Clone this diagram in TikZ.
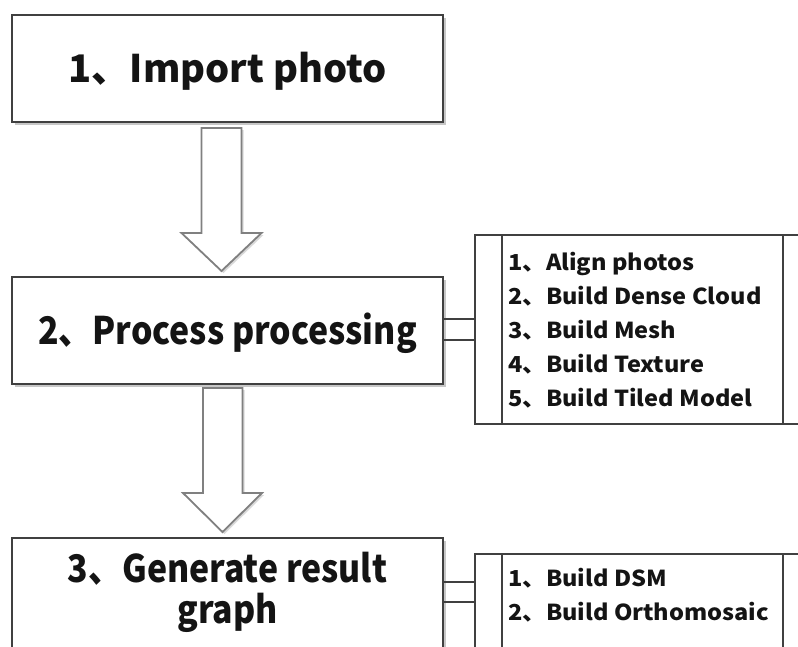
\documentclass[tikz,border=0pt]{standalone}
\usepackage{fontspec}
\setmainfont{Noto Sans CJK SC}
\newfontfamily\narrowfont{Noto Sans CJK SC}[FakeStretch=0.89]
\newfontfamily\listfont{Noto Sans CJK SC}[FakeStretch=1.07]
\usetikzlibrary{shadows}
\definecolor{edge}{HTML}{404040}
\definecolor{arrowedge}{HTML}{808080}
\definecolor{ink}{HTML}{141414}
\tikzset{
  stepbox/.style={draw=edge, line width=1.4pt, fill=white, rectangle, inner sep=0pt, outer sep=0pt,
    drop shadow={shadow xshift=2.5pt, shadow yshift=-2.5pt, opacity=0.22, fill=black}},
  bigtext/.style={font=\bfseries\fontsize{38}{41}\selectfont, text=ink, align=center, inner sep=0pt},
  listbox/.style={draw=edge, line width=1.2pt, fill=white, rectangle, inner sep=0pt, outer sep=0pt},
  item/.style={anchor=base west, font=\listfont\bfseries\fontsize{22}{34}\selectfont, text=ink, inner sep=0pt},
  link/.style={draw=edge, line width=1.3pt},
  blockarrow/.style={draw=arrowedge, line width=1.8pt, fill=white, line join=miter,
    drop shadow={shadow xshift=2pt, shadow yshift=-2pt, opacity=0.15, fill=black}},
}
\begin{document}
\begin{tikzpicture}[x=1pt,y=-1pt]
\useasboundingbox (0,0) rectangle (798,646);

% main boxes
\node[stepbox, minimum width=431pt, minimum height=107pt] (b1) at (227.5,68.5) {};
\node[stepbox, minimum width=431pt, minimum height=107pt] (b2) at (227.5,330.5) {};
\node[stepbox, minimum width=431pt, minimum height=122pt] (b3) at (227.5,599) {};

\node[bigtext, anchor=base] (t1) at (227.5,82) {1、Import photo};
\node[bigtext, anchor=base, font=\narrowfont\bfseries\fontsize{38}{41}\selectfont] (t2) at (227.5,344) {2、Process processing};
\node[bigtext, font=\narrowfont\bfseries\fontsize{38}{41}\selectfont] (t3) at (227.5,592) {3、Generate result\\graph};

% block arrows
\coordinate (a1) at (221.5,128);
\coordinate (a2) at (222.5,388);
\path[blockarrow] (a1) ++(-20,0) -- ++(0,105) -- ++(-20,0) -- ++(40,38) -- ++(40,-38) -- ++(-20,0) -- ++(0,-105) -- cycle;
\path[blockarrow] (a2) ++(-19.5,0) -- ++(0,105) -- ++(-20,0) -- ++(39.5,39) -- ++(39.5,-39) -- ++(-19.5,0) -- ++(0,-105) -- cycle;

% list tables
\node[listbox, minimum width=330pt, minimum height=189pt] (l2) at (640,329.5) {};
\node[listbox, minimum width=330pt, minimum height=106pt] (l3) at (640,607) {};
\foreach \t in {l2,l3}{
  \draw[link] ([xshift=27pt]\t.north west) -- ([xshift=27pt]\t.south west);
  \draw[link] ([xshift=308pt]\t.north west) -- ([xshift=308pt]\t.south west);
}

% connectors
\draw[link] ([yshift=11.5pt]b2.east) -- ([yshift=11.5pt]b2.east -| l2.west);
\draw[link] ([yshift=-9.5pt]b2.east) -- ([yshift=-9.5pt]b2.east -| l2.west);
\draw[link] ([yshift=17pt]b3.east) -- ([yshift=17pt]b3.east -| l3.west);
\draw[link] ([yshift=-3pt]b3.east) -- ([yshift=-3pt]b3.east -| l3.west);

% list items
\node[item] (i1) at (508,270.5) {1、Align photos};
\node[item] (i2) at (508,304.5) {2、Build Dense Cloud};
\node[item] (i3) at (508,338.5) {3、Build Mesh};
\node[item] (i4) at (508,372.5) {4、Build Texture};
\node[item] (i5) at (508,406.5) {5、Build Tiled Model};
\node[item] (j1) at (508,586.5) {1、Build DSM};
\node[item] (j2) at (508,620.5) {2、Build Orthomosaic};
\end{tikzpicture}
\end{document}
